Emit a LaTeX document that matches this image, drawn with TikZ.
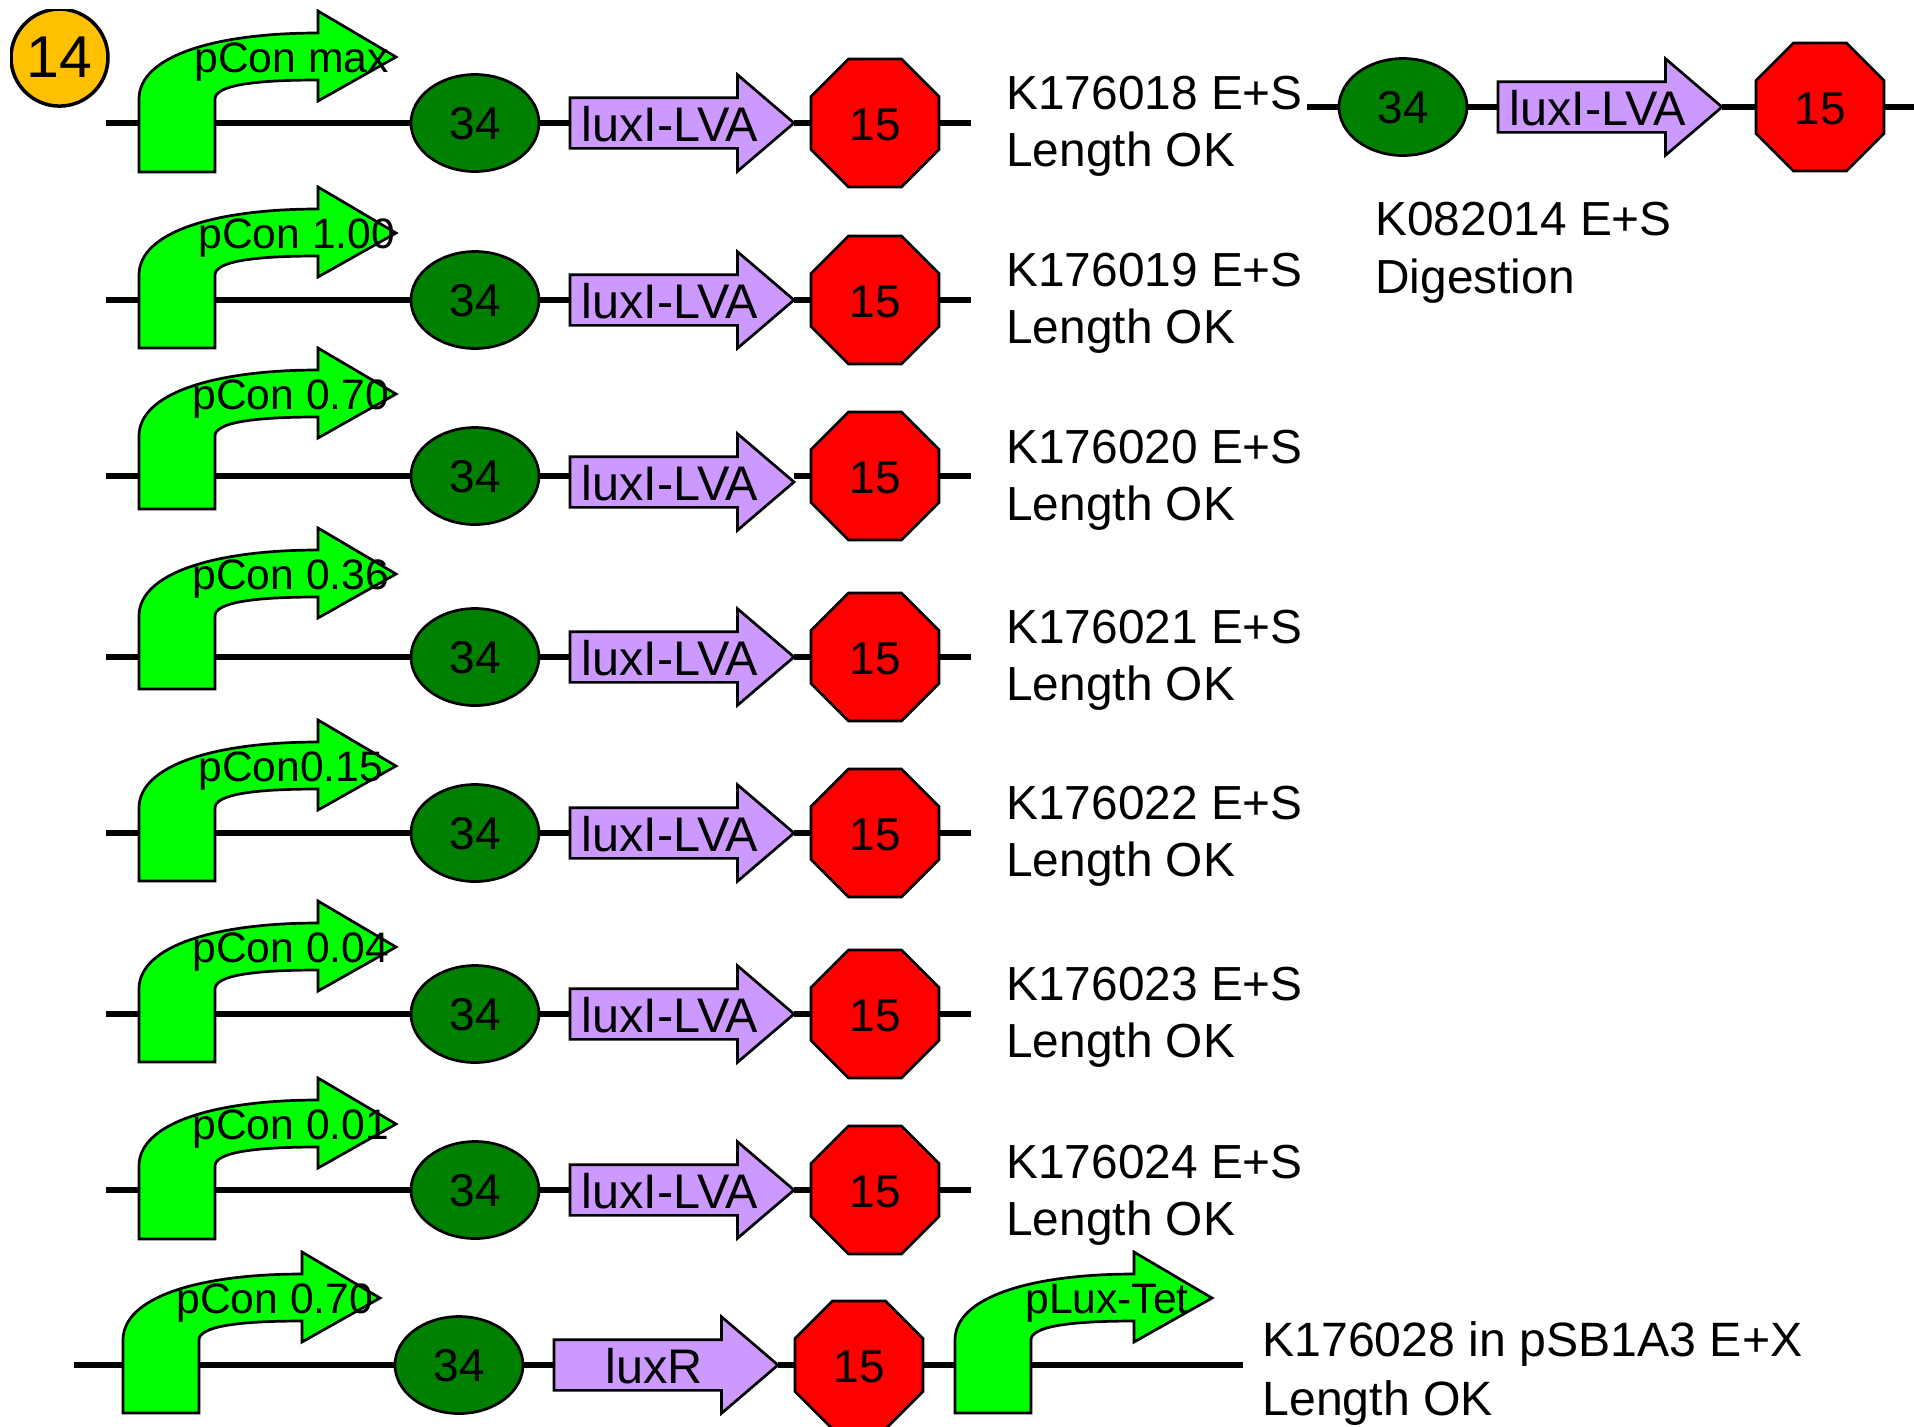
\documentclass[tikz,border=0pt]{standalone}
\usepackage{fontspec}
\setmainfont{Liberation Sans}
\usetikzlibrary{shapes.geometric,shapes.arrows}
\definecolor{rbsgreen}{HTML}{008000}
\definecolor{promgreen}{HTML}{00FF00}
\definecolor{cdspurple}{HTML}{CC99FF}
\definecolor{badgeorange}{HTML}{FFC000}
\tikzset{
  dna/.style={line width=3.4pt},
  outl/.style={draw=black,line width=1.35pt},
  rbsnode/.style={ellipse,outl,fill=rbsgreen,inner sep=0pt,outer sep=0pt,minimum width=64pt,minimum height=48.5pt,font=\fontsize{23}{23}\selectfont},
  termnode/.style={regular polygon,regular polygon sides=8,outl,fill=red,inner sep=0pt,outer sep=0pt,minimum size=69.3pt,font=\fontsize{23}{23}\selectfont},
  cdsnode/.style={single arrow,outl,fill=cdspurple,inner xsep=0pt,inner ysep=12pt,outer sep=0pt,minimum width=47pt,minimum height=112pt,single arrow head extend=11.5pt,single arrow tip angle=81,anchor=tip},
  partlabel/.style={inner sep=0pt,anchor=base,font=\fontsize{24.3}{24.3}\selectfont},
  promlabel/.style={inner sep=0pt,anchor=base west,font=\fontsize{21.3}{21.3}\selectfont},
  note/.style={inner sep=0pt,anchor=base west,font=\fontsize{23.9}{23.9}\selectfont},
  bignote/.style={note,font=\fontsize{24.1}{24.1}\selectfont},
  prom/.style={outl,fill=promgreen,line join=miter},
  badge/.style={circle,draw=black,line width=1.75pt,fill=badgeorange,inner sep=0pt,outer sep=0pt,minimum size=48.5pt,font=\fontsize{29.5}{29.5}\selectfont}
}
% id, x offset, line y, cds y offset, cds label, line start x, line end x, extra terminator x offset
\newcommand{\partrow}[8]{
  \coordinate (s#1) at (#6,#3);
  \coordinate (e#1) at (#7,#3);
  \node[rbsnode] (r#1) at (475+#2,#3) {\raisebox{-8.4pt}[0pt][0pt]{34}};
  \node[cdsnode] (c#1) at (794+#2,#3+#4) {};
  \node[partlabel] (cl#1) at (670+#2,#3+#4+18) {#5};
  \node[termnode] (t#1) at (875+#2+#8,#3) {\raisebox{-8.8pt}[0pt][0pt]{15}};
  \draw[dna] (s#1) -- (r#1);
  \draw[dna] (r#1) -- (r#1 -| c#1.tail);
  \draw[dna] (r#1 -| c#1.tip) -- (t#1);
  \draw[dna] (t#1) -- (e#1);
}
% id, stem left x, tip y, label x, label
\newcommand{\promoter}[5]{
  \draw[prom] (#2,#3+115) -- (#2,#3+42)
    .. controls (#2,#3-1) and (#2+76,#3-24) .. (#2+179,#3-24)
    -- (#2+179,#3-46) -- (#2+257,#3) -- (#2+179,#3+44) -- (#2+179,#3+23)
    .. controls (#2+111,#3+23) and (#2+76,#3+29) .. (#2+76,#3+42)
    -- (#2+76,#3+115) -- cycle;
  \node[promlabel] (p#1) at (#4,#3+15) {#5};
}
% id, y of first line, text
\newcommand{\kanote}[3]{
  \node[note] (k#1) at (1006,#2) {#3};
  \node[note] (l#1) at (1006,#2+57) {Length OK};
}
\begin{document}
\begin{tikzpicture}[x=0.5pt,y=-0.5pt]
\useasboundingbox (0,0) rectangle (1914,1426);
\begin{scope}
  \clip (10,9) rectangle (130,130);
  \node[badge] (badge) at (59.5,57.6) {14};
\end{scope}
\partrow{a}{0}{123}{0}{luxI-LVA}{106}{971}{0}
\promoter{a}{139}{57}{194}{pCon max}
\kanote{a}{109}{K176018 E+S}
\partrow{b}{0}{300}{0}{luxI-LVA}{106}{971}{0}
\promoter{b}{139}{233}{198}{pCon 1.00}
\kanote{b}{286}{K176019 E+S}
\partrow{c}{0}{476}{6}{luxI-LVA}{106}{971}{0}
\promoter{c}{139}{394}{192}{pCon 0.70}
\kanote{c}{463}{K176020 E+S}
\partrow{d}{0}{657}{0}{luxI-LVA}{106}{971}{0}
\promoter{d}{139}{574}{192}{pCon 0.36}
\kanote{d}{643}{K176021 E+S}
\partrow{e}{0}{833}{0}{luxI-LVA}{106}{971}{0}
\promoter{e}{139}{766}{198}{pCon0.15}
\kanote{e}{819}{K176022 E+S}
\partrow{f}{0}{1014}{0}{luxI-LVA}{106}{971}{0}
\promoter{f}{139}{947}{192}{pCon 0.04}
\kanote{f}{1000}{K176023 E+S}
\partrow{g}{0}{1190}{0}{luxI-LVA}{106}{971}{0}
\promoter{g}{139}{1124}{192}{pCon 0.01}
\kanote{g}{1178}{K176024 E+S}
% last row
\partrow{h}{-16}{1365}{0}{luxR}{74}{1243}{0}
\promoter{h}{123}{1298}{176}{pCon 0.70}
\promoter{i}{955}{1298}{1025}{pLux-Tet}
\node[bignote] (kh) at (1262,1356) {K176028 in pSB1A3 E+X};
\node[bignote] (lh) at (1262,1415) {Length OK};
% upper right construct
\partrow{j}{928}{107}{0}{luxI-LVA}{1307}{1914}{17}
\node[note] (kj) at (1375,235) {K082014 E+S};
\node[note] (lj) at (1375,293) {Digestion};
\end{tikzpicture}
\end{document}
